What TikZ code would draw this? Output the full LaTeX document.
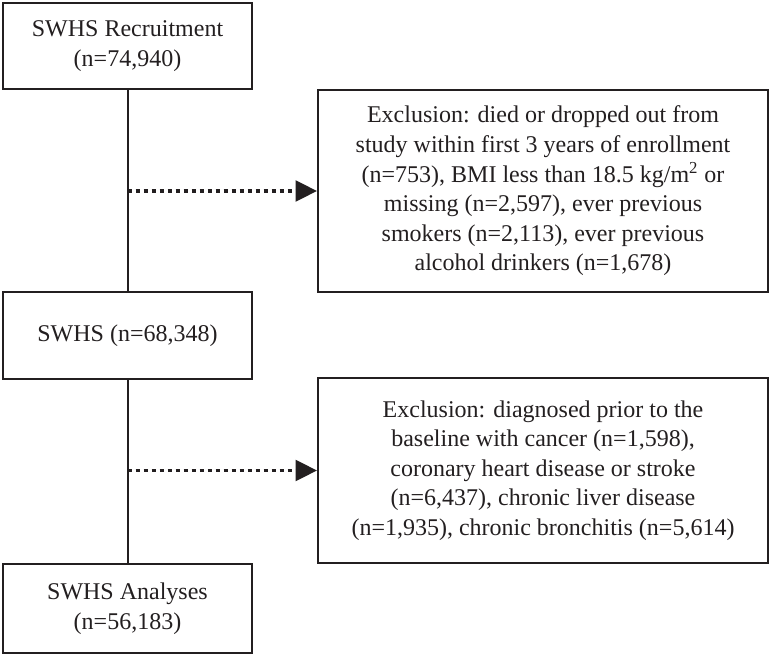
\documentclass[tikz,border=0pt]{standalone}
\usepackage{fontspec}
\setmainfont{Liberation Serif}
\usetikzlibrary{arrows.meta}
\definecolor{ink}{RGB}{35,31,32}
\begin{document}
\begin{tikzpicture}[x=0.75pt,y=-0.75pt,
  box/.style={draw=ink,line width=1.5pt,rectangle,align=center,inner sep=0pt,
    font=\fontsize{18}{22.2}\selectfont,text=ink},
  flow/.style={draw=ink,line width=1.5pt},
  excl/.style={draw=ink,line width=2.4pt,dash pattern=on 3pt off 3pt,
    -{Triangle[length=16pt,width=15.5pt]}}]
\useasboundingbox (0,0) rectangle (770,655);
\node[box,minimum width=186.75pt,minimum height=64.5pt] (rec) at (127.5,46) {SWHS Recruitment\\(n=74,940)};
\node[box,minimum width=186.75pt,minimum height=65.25pt] (swhs) at (127.5,335.5) {SWHS (n=68,348)};
\node[box,minimum width=186.75pt,minimum height=66.75pt] (ana) at (127.5,608.5) {SWHS Analyses\\(n=56,183)};
\node[box,minimum width=337.5pt,minimum height=151.5pt] (ex1) at (543,191) {Exclusion: died or dropped out from\\study within first 3 years of enrollment\\(n=753), BMI less than 18.5 kg/m\textsuperscript{2} or\\missing (n=2,597), ever previous\\smokers (n=2,113), ever previous\\alcohol drinkers (n=1,678)};
\node[box,minimum width=337.5pt,minimum height=138.75pt] (ex2) at (543,470.5) {Exclusion: diagnosed prior to the\\baseline with cancer (n=1,598),\\coronary heart disease or stroke\\(n=6,437), chronic liver disease\\(n=1,935), chronic bronchitis (n=5,614)};
\draw[flow] (rec.south) -- (swhs.north);
\draw[flow] (swhs.south) -- (ana.north);
\coordinate (s1) at (rec.south |- ex1.west);
\coordinate (s2) at (swhs.south |- ex2.west);
\draw[excl] (s1) -- (ex1.west);
\draw[excl] (s2) -- (ex2.west);
\end{tikzpicture}
\end{document}
